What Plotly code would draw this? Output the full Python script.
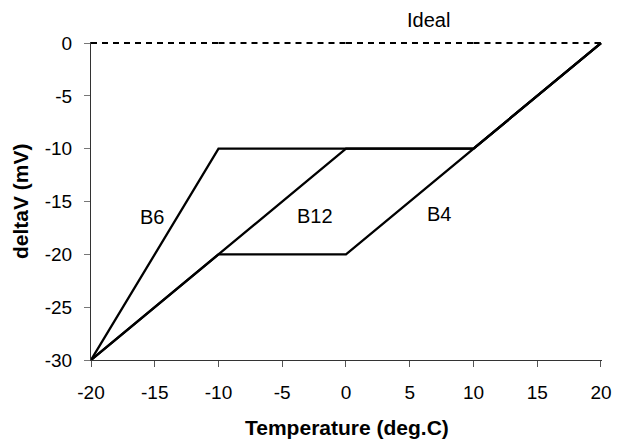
import plotly.graph_objects as go

# ---- data ----
ideal_x = [-20, -10, 0, 10, 20]
ideal_y = [0, 0, 0, 0, 0]
b6_x = [-20, -10, 10, 20]
b6_y = [-30, -10, -10, 0]
b12_x = [-20, 0, 10, 20]
b12_y = [-30, -10, -10, 0]
b4_x = [-20, -10, 0, 10, 20]
b4_y = [-30, -20, -20, -10, 0]
x_ticks = [-20, -15, -10, -5, 0, 5, 10, 15, 20]
y_ticks = [0, -5, -10, -15, -20, -25, -30]
labels = ["B6", "B12", "B4"]
label_x = [-15.2, -2.4, 7.3]
label_y = [-16.5, -16.4, -16.2]
ideal_label = "Ideal"
ideal_label_x = 6.47

FONT = "Arial, Liberation Sans, sans-serif"

# split the ideal line into segments so that the dash pattern restarts at each point
seg_x, seg_y = [], []
for i in range(len(ideal_x) - 1):
    seg_x += [ideal_x[i], ideal_x[i + 1], None]
    seg_y += [ideal_y[i], ideal_y[i + 1], None]

fig = go.Figure()
fig.add_trace(go.Scatter(x=seg_x, y=seg_y, mode="lines", connectgaps=False,
                         line=dict(color="black", width=2, dash="6px,5px"), name="Ideal"))
for xs, ys, nm in [(b6_x, b6_y, "B6"), (b12_x, b12_y, "B12"), (b4_x, b4_y, "B4")]:
    fig.add_trace(go.Scatter(x=xs, y=ys, mode="lines",
                             line=dict(color="black", width=2.3), name=nm))

for t, lx, ly in zip(labels, label_x, label_y):
    fig.add_annotation(x=lx, y=ly, text=t, showarrow=False, xref="x", yref="y",
                       font=dict(family=FONT, size=20, color="black"))

# "Ideal" sits above the plotting area, so it is anchored to the top of the plot
fig.add_annotation(x=ideal_label_x, y=1, xref="x", yref="paper", yshift=22,
                   text=ideal_label, showarrow=False, xanchor="center", yanchor="middle",
                   font=dict(family=FONT, size=20, color="black"))

fig.add_annotation(x=0.5, y=0, xref="paper", yref="paper", yshift=-67,
                   text="<b>Temperature (deg.C)</b>", showarrow=False,
                   xanchor="center", yanchor="middle",
                   font=dict(family=FONT, size=21, color="black"))
fig.add_annotation(x=0, y=0.5, xref="paper", yref="paper", xshift=-71,
                   text="<b>deltaV (mV)</b>", showarrow=False, textangle=-90,
                   xanchor="center", yanchor="middle",
                   font=dict(family=FONT, size=21, color="black"))

# page body has an 8px margin, so the figure is sized and offset to compensate
fig.update_layout(
    width=616, height=435,
    margin=dict(l=82.5, r=12.5, t=34, b=83),
    paper_bgcolor="white", plot_bgcolor="white",
    showlegend=False,
    font=dict(family=FONT, size=19, color="black"),
    xaxis=dict(range=[-20, 20.08], tickvals=x_ticks, ticktext=[str(v) for v in x_ticks],
               showgrid=False, zeroline=False, showline=True, linecolor="#333",
               linewidth=1, ticks="outside", ticklen=6, tickcolor="#555",
               ticklabelstandoff=9, tickfont=dict(family=FONT, size=19, color="black")),
    yaxis=dict(range=[-30, 0.1], tickvals=y_ticks, ticktext=[str(v) for v in y_ticks],
               showgrid=False, zeroline=False, showline=True, linecolor="#333",
               linewidth=1, ticks="outside", ticklen=6, tickcolor="#777",
               ticklabelstandoff=8, tickfont=dict(family=FONT, size=19, color="black")),
)

fig.write_html("out.html")
